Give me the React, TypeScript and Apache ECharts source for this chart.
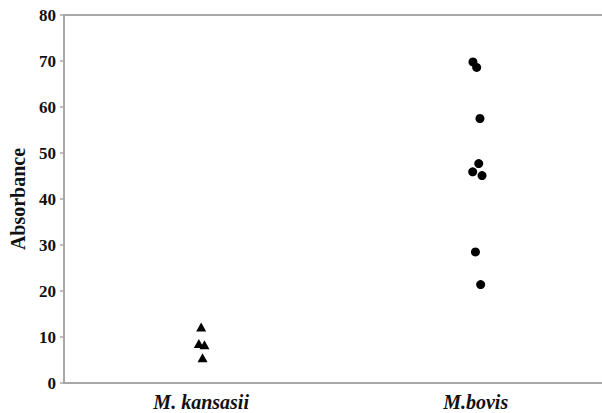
import React, { useEffect, useRef } from "react";
import * as echarts from "echarts";

const categories = ["M. kansasii", "M.bovis"];
const categoryPositions = [1, 3];
const kansasiiValues = [12.2, 8.6, 8.3, 5.5];
const kansasiiJitter = [0, -0.017, 0.024, 0.01];
const bovisValues = [69.8, 68.6, 57.5, 47.7, 45.9, 45.1, 28.5, 21.4];
const bovisJitter = [-0.02, 0.007, 0.031, 0.022, -0.022, 0.046, -0.002, 0.036];
const yTicks = [0, 10, 20, 30, 40, 50, 60, 70, 80];
const xMax = 3.92;

const FONT = "'Liberation Serif', 'Times New Roman', serif";
const GRAY = "#a8a8a8";

export default function App() {
  const ref = useRef<HTMLDivElement>(null);
  useEffect(() => {
    document.body.style.margin = "0";
    document.documentElement.style.overflow = "hidden";
    document.body.style.overflow = "hidden";
    if (!ref.current) return;
    const chart = echarts.init(ref.current, undefined, { renderer: "svg" });
    const kData = kansasiiValues.map((v, i) => [categoryPositions[0] + kansasiiJitter[i], v]);
    const bData = bovisValues.map((v, i) => [categoryPositions[1] + bovisJitter[i], v]);
    chart.setOption({
      animation: false,
      backgroundColor: "#ffffff",
      grid: {
        left: 61,
        top: 15,
        right: 0,
        bottom: 30,
        show: false,
      },
      xAxis: [
        {
          type: "value",
          min: 0,
          max: xMax,
          interval: 1,
          splitLine: { show: false },
          axisTick: { show: false },
          axisLine: { show: true, lineStyle: { color: GRAY, width: 2 } },
          axisLabel: {
            margin: 9,
            fontFamily: FONT,
            fontWeight: "bold",
            fontStyle: "italic",
            fontSize: 20,
            color: "#111",
            showMaxLabel: false,
            formatter: (v: number) => {
              const idx = categoryPositions.indexOf(v);
              return idx >= 0 ? categories[idx] : "";
            },
          },
        },
        {
          type: "value",
          position: "top",
          min: 0,
          max: xMax,
          interval: 1,
          splitLine: { show: false },
          axisTick: { show: false },
          axisLabel: { show: false },
          axisLine: { show: true, onZero: false, lineStyle: { color: GRAY, width: 2 } },
        },
      ],
      yAxis: {
        type: "value",
        min: yTicks[0],
        max: yTicks[yTicks.length - 1],
        interval: 10,
        name: "Absorbance",
        nameLocation: "middle",
        nameGap: 32,
        nameTextStyle: {
          fontFamily: FONT,
          fontWeight: "bold",
          fontSize: 20,
          color: "#111",
        },
        splitLine: { show: false },
        axisTick: { show: true, length: 4, lineStyle: { color: GRAY, width: 1.5 } },
        axisLine: { show: true, lineStyle: { color: GRAY, width: 2 } },
        axisLabel: {
          margin: 8,
          fontFamily: FONT,
          fontWeight: "bold",
          fontSize: 17,
          color: "#111",
        },
      },
      series: [
        {
          name: categories[0],
          type: "scatter",
          symbol: "triangle",
          symbolSize: [10, 9],
          itemStyle: { color: "#000", opacity: 1 },
          data: kData,
        },
        {
          name: categories[1],
          type: "scatter",
          symbol: "circle",
          symbolSize: 9,
          itemStyle: { color: "#000", opacity: 1 },
          data: bData,
        },
      ],
    });
    return () => chart.dispose();
  }, []);
  return <div ref={ref} style={{ width: 602, height: 413 }} />;
}
